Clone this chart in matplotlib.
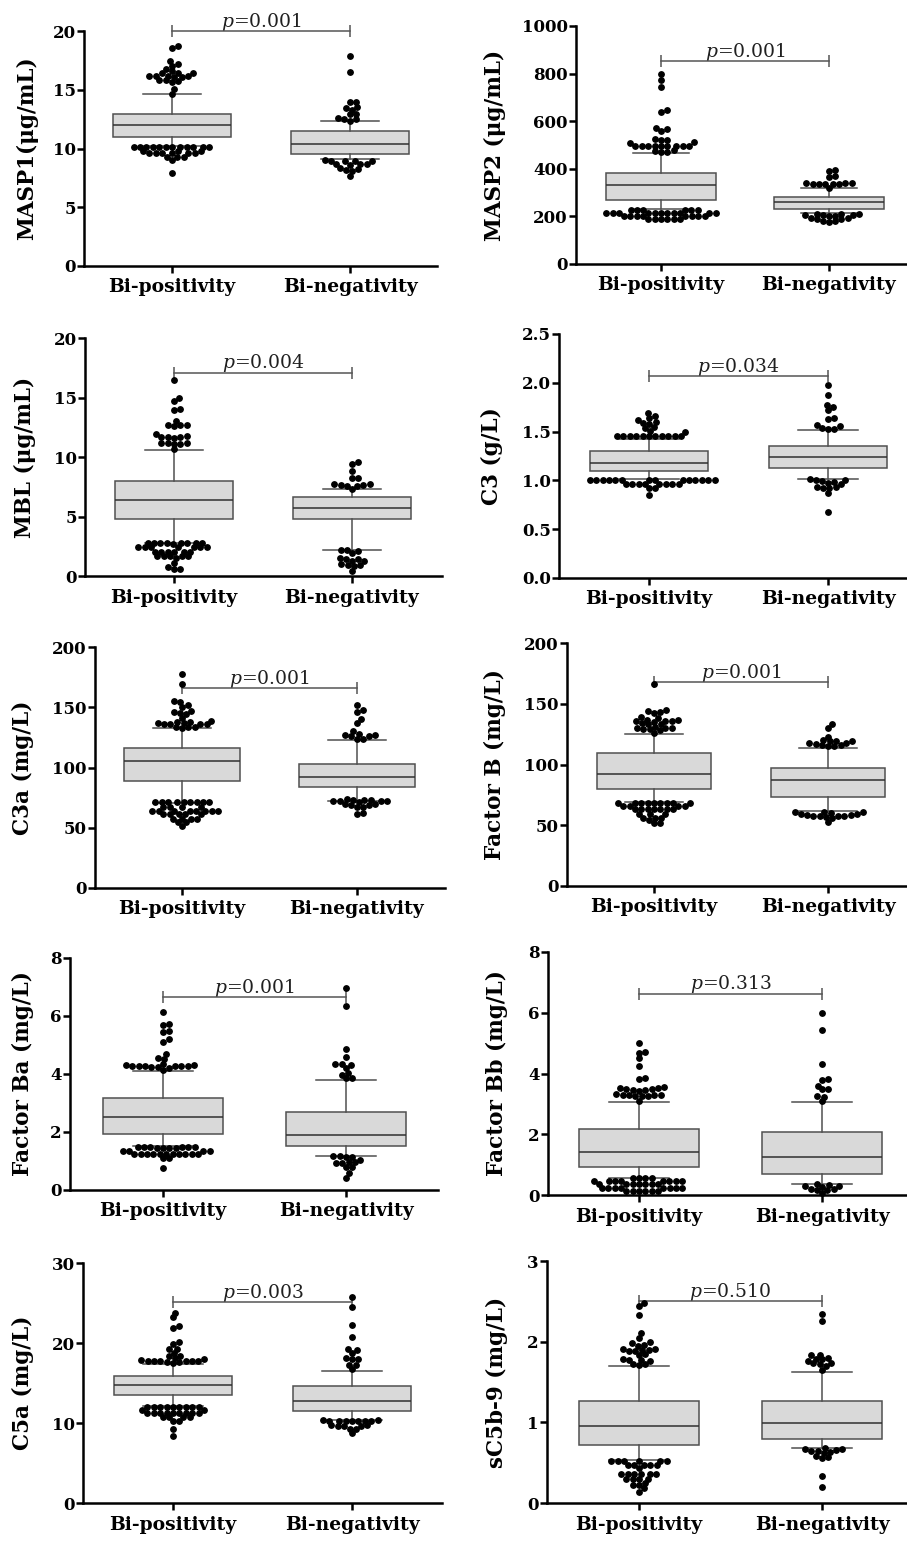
import matplotlib
matplotlib.use('Agg')
import matplotlib.pyplot as plt
import numpy as np

plt.rcParams['font.family'] = 'DejaVu Serif'
plt.rcParams['mathtext.fontset'] = 'dejavuserif'

groups = ['Bi-positivity', 'Bi-negativity']

# box stats: lower whisker, q1, median, q3, upper whisker
masp1_pos_box = [10.2, 11.0, 12.0, 12.9, 14.65]
masp1_pos_dots = [18.7, 18.55, 17.45, 17.2, 17.05, 16.8, 16.6, 16.45, 16.45, 16.4, 16.2, 16.2,
                  16.15, 16.15, 16.1, 16.1, 15.8, 15.8, 15.75, 15.7, 15.05, 14.65,
                  10.15, 10.15, 10.15, 10.15, 10.15, 10.15, 10.15, 10.15, 10.15, 10.15, 10.15, 10.15,
                  9.75, 9.75, 9.75, 9.6, 9.6, 9.6, 9.6, 9.6, 9.6, 9.3, 9.3, 9.3, 9.05, 7.9]
masp1_neg_box = [9.1, 9.56, 10.35, 11.5, 12.3]
masp1_neg_dots = [17.9, 16.5, 14.0, 13.95, 13.55, 13.45, 13.3, 12.95, 12.9, 12.6, 12.55, 12.5, 12.35,
                  9.0, 8.95, 8.95, 8.9, 8.9, 8.7, 8.65, 8.65, 8.6, 8.35, 8.25, 8.15, 8.1, 7.7]

masp2_pos_box = [231, 270, 330, 382, 468]
masp2_pos_dots = [800, 775, 745, 645, 640, 572, 568, 560, 525, 522, 520, 512, 508,
                  497, 497, 497, 497, 497, 497, 497, 497, 497, 478, 475, 472, 470,
                  228, 228, 228, 228, 228, 228, 214, 214, 214, 214, 214, 214, 214, 214, 214,
                  214, 214, 200, 200, 200, 200, 200, 200, 200, 200,
                  188, 188, 188, 188, 188, 188]
masp2_neg_box = [215, 232, 259, 281, 318]
masp2_neg_dots = [395, 390, 370, 365, 342, 340, 340, 338, 338, 336, 335, 335, 318,
                  212, 210, 208, 206, 205, 205, 203, 200, 195, 193, 190, 188, 182, 180, 178]

mbl_pos_box = [2.75, 4.77, 6.4, 7.95, 10.6]
mbl_pos_dots = [16.5, 14.95, 14.7, 14.05, 13.95, 13.0, 12.7, 12.65, 12.65, 12.6, 11.95, 11.75,
                11.7, 11.7, 11.65, 11.6, 11.2, 11.15, 11.15, 11.1, 11.1, 10.65,
                2.8, 2.8, 2.8, 2.8, 2.75, 2.75, 2.75, 2.75, 2.7, 2.4, 2.4, 2.4, 2.4, 2.4, 2.4, 2.4,
                2.05, 2.05, 2.05, 2.05, 2.05, 2.05, 1.65, 1.65, 1.65, 1.65, 1.65, 1.5,
                1.1, 0.75, 0.6, 0.55]
mbl_neg_box = [2.2, 4.77, 5.7, 6.6, 7.35]
mbl_neg_dots = [9.6, 9.45, 8.8, 8.25, 8.2, 7.7, 7.7, 7.65, 7.65, 7.6, 7.6, 7.35,
                2.2, 2.15, 2.1, 1.9, 1.5, 1.45, 1.4, 1.3, 1.25, 1.0, 0.95, 0.9, 0.85, 0.45]

c3_pos_box = [1.01, 1.10, 1.18, 1.30, 1.42]
c3_pos_dots = [1.69, 1.66, 1.64, 1.62, 1.6, 1.59, 1.58, 1.55, 1.54, 1.51, 1.5,
               1.46, 1.46, 1.46, 1.46, 1.46, 1.46, 1.46, 1.46, 1.46, 1.46, 1.46,
               1.0, 1.0, 1.0, 1.0, 1.0, 1.0, 1.0, 1.0, 1.0, 1.0, 1.0, 1.0, 1.0, 1.0,
               0.96, 0.96, 0.96, 0.96, 0.96, 0.96, 0.96, 0.96, 0.92, 0.92, 0.85]
c3_neg_box = [1.01, 1.125, 1.24, 1.35, 1.52]
c3_neg_dots = [1.98, 1.87, 1.77, 1.75, 1.72, 1.64, 1.63, 1.57, 1.56, 1.54, 1.53, 1.53,
               1.01, 1.0, 1.0, 0.99, 0.98, 0.97, 0.96, 0.93, 0.93, 0.92, 0.92, 0.87, 0.68]

c3a_pos_box = [70.8, 88.8, 105.5, 116.5, 133]
c3a_pos_dots = [178, 169, 155, 154, 152, 150, 147, 146, 145, 144, 141, 139, 138, 138, 137, 137,
                136, 136, 136, 136, 134, 134, 134, 133,
                71, 71, 71, 71, 71, 71, 71, 71, 71, 67, 67, 67, 67, 64, 64, 64, 64, 64, 64, 64, 64,
                61, 61, 61, 61, 61, 57.5, 57.5, 57.5, 57.5, 54.5, 54.5, 51.5]
c3a_neg_box = [72.2, 83.8, 92, 103.2, 123]
c3a_neg_dots = [152, 148, 146, 140, 137, 130, 128, 127, 127, 126, 126, 124, 124,
                74, 73, 73, 73, 72, 72, 72, 72, 71, 70, 70, 69, 69, 67, 67, 62, 61.5]

fb_pos_box = [69, 79.7, 92, 109.3, 125.3]
fb_pos_dots = [166, 145, 144, 143, 142, 139, 138, 137, 137, 136, 136, 136, 135, 134, 133, 133,
               131, 130, 130, 130, 129, 129, 128, 126,
               68, 68, 68, 68, 68, 68, 68, 68, 68, 65.5, 65.5, 65.5, 65.5, 63, 63, 63, 63, 63, 63, 63,
               59, 59, 59, 56, 56, 56, 54, 51.5, 51.5]
fb_neg_box = [62, 73.6, 87.4, 97.3, 113.5]
fb_neg_dots = [133, 130, 123, 120, 119, 119, 119, 118, 118, 117, 116, 116, 115, 115,
               61, 61, 60.5, 60, 59, 59, 58.5, 58.5, 58, 58, 58, 57.5, 57, 56, 53]

fba_pos_box = [1.52, 1.94, 2.51, 3.16, 4.12]
fba_pos_dots = [6.15, 5.72, 5.68, 5.48, 5.44, 5.2, 5.12, 4.68, 4.55, 4.52, 4.35, 4.3, 4.3, 4.28,
                4.28, 4.27, 4.27, 4.26, 4.26, 4.25, 4.25, 4.22, 4.15,
                1.5, 1.5, 1.5, 1.5, 1.5, 1.5, 1.45, 1.45, 1.45, 1.45, 1.35, 1.35, 1.35, 1.35,
                1.25, 1.25, 1.25, 1.25, 1.25, 1.25, 1.25, 1.25, 1.25, 1.25, 1.25, 1.1, 1.1, 0.75]
fba_neg_box = [1.17, 1.51, 1.9, 2.68, 3.81]
fba_neg_dots = [6.95, 6.35, 4.85, 4.58, 4.35, 4.33, 4.3, 4.2, 4.02, 3.98, 3.87, 3.85,
                1.18, 1.16, 1.15, 1.14, 1.05, 0.96, 0.95, 0.93, 0.92, 0.8, 0.78, 0.58, 0.43]

fbb_pos_box = [0.55, 0.91, 1.42, 2.16, 3.07]
fbb_pos_dots = [5.0, 4.72, 4.68, 4.5, 4.25, 3.84, 3.82, 3.55, 3.53, 3.52, 3.5, 3.48, 3.46, 3.45,
                3.44, 3.32, 3.3, 3.3, 3.28, 3.28, 3.27, 3.26, 3.25, 3.1,
                0.55, 0.55, 0.55, 0.55, 0.47, 0.47, 0.47, 0.47, 0.47, 0.47, 0.47, 0.47,
                0.36, 0.36, 0.36, 0.36, 0.36, 0.36, 0.36, 0.22, 0.22, 0.22, 0.22, 0.22, 0.22, 0.22, 0.22,
                0.12, 0.12, 0.12, 0.12, 0.12, 0.12]
fbb_neg_box = [0.36, 0.68, 1.24, 2.08, 3.07]
fbb_neg_dots = [5.98, 5.43, 4.32, 3.82, 3.8, 3.6, 3.5, 3.48, 3.25, 3.24, 3.08,
                0.36, 0.33, 0.3, 0.28, 0.27, 0.2, 0.19, 0.18, 0.17, 0.08]

c5a_pos_box = [12.1, 13.46, 14.75, 15.9, 17.4]
c5a_pos_dots = [23.8, 23.2, 22.1, 21.9, 20.1, 19.9, 19.3, 19.2, 18.75, 18.4, 18.35, 18.1, 18.05,
                17.85, 17.8, 17.8, 17.75, 17.75, 17.7, 17.7, 17.65, 17.6, 17.5,
                12.0, 12.0, 12.0, 12.0, 12.0, 12.0, 12.0, 12.0, 12.0, 11.6, 11.6,
                11.3, 11.3, 11.3, 11.3, 11.3, 11.3, 11.3, 11.3, 11.3, 10.7, 10.7, 10.7, 10.7,
                10.2, 10.2, 9.3, 8.4]
c5a_neg_box = [10.4, 11.46, 12.8, 14.67, 16.5]
c5a_neg_dots = [25.7, 24.5, 22.3, 20.7, 19.2, 19.1, 18.7, 18.1, 18.05, 18.0, 17.3, 17.2, 16.75,
                10.35, 10.35, 10.3, 10.3, 10.3, 10.3, 10.25, 10.25, 10.2, 9.7, 9.7, 9.65, 9.6, 9.6,
                9.3, 9.2, 8.7]

sc5b9_pos_box = [0.53, 0.714, 0.96, 1.26, 1.70]
sc5b9_pos_dots = [2.48, 2.44, 2.33, 2.11, 2.05, 1.99, 1.98, 1.96, 1.95, 1.91, 1.91, 1.9, 1.9,
                  1.89, 1.89, 1.85, 1.84, 1.78, 1.77, 1.77, 1.76, 1.72, 1.72, 1.71,
                  0.52, 0.52, 0.52, 0.52, 0.52, 0.52, 0.47, 0.47, 0.47, 0.47, 0.47, 0.43,
                  0.36, 0.36, 0.36, 0.36, 0.36, 0.36, 0.3, 0.3, 0.3, 0.3, 0.25, 0.22, 0.22, 0.18, 0.14]
sc5b9_neg_box = [0.68, 0.79, 0.99, 1.27, 1.63]
sc5b9_neg_dots = [2.34, 2.26, 1.84, 1.83, 1.8, 1.79, 1.78, 1.76, 1.74, 1.73, 1.72, 1.7, 1.65,
                  0.68, 0.67, 0.67, 0.66, 0.65, 0.64, 0.63, 0.62, 0.58, 0.57, 0.56, 0.34, 0.2]

y_labels = ['MASP1(μg/mL)', 'MASP2 (μg/mL)', 'MBL (μg/mL)', 'C3 (g/L)', 'C3a (mg/L)',
            'Factor B (mg/L)', 'Factor Ba (mg/L)', 'Factor Bb (mg/L)', 'C5a (mg/L)', 'sC5b-9 (mg/L)']
p_values = ['0.001', '0.001', '0.004', '0.034', '0.001', '0.001', '0.001', '0.313', '0.003', '0.510']
bracket_y = [20, 853, 17.1, 2.07, 166, 167.6, 6.65, 6.63, 25.1, 2.5]
y_max = [20, 1000, 20, 2.5, 200, 200, 8, 8, 30, 3]
y_step = [5, 200, 5, 0.5, 50, 50, 2, 2, 10, 1]

boxes = [(masp1_pos_box, masp1_neg_box), (masp2_pos_box, masp2_neg_box), (mbl_pos_box, mbl_neg_box),
         (c3_pos_box, c3_neg_box), (c3a_pos_box, c3a_neg_box), (fb_pos_box, fb_neg_box),
         (fba_pos_box, fba_neg_box), (fbb_pos_box, fbb_neg_box), (c5a_pos_box, c5a_neg_box),
         (sc5b9_pos_box, sc5b9_neg_box)]
dots = [(masp1_pos_dots, masp1_neg_dots), (masp2_pos_dots, masp2_neg_dots), (mbl_pos_dots, mbl_neg_dots),
        (c3_pos_dots, c3_neg_dots), (c3a_pos_dots, c3a_neg_dots), (fb_pos_dots, fb_neg_dots),
        (fba_pos_dots, fba_neg_dots), (fbb_pos_dots, fbb_neg_dots), (c5a_pos_dots, c5a_neg_dots),
        (sc5b9_pos_dots, sc5b9_neg_dots)]

W, H = 907, 1541
# pixel layout: x left, x right, y top, y bottom, tick 1 x, tick 2 x, y label centre x
layout = [
    (84, 437, 31, 266, 172, 350, 27),
    (576, 907, 26, 264, 661, 829, 495),
    (85, 442, 338, 576, 174, 352, 25),
    (559, 907, 334, 578, 649, 828, 492),
    (95, 445, 647, 888, 182, 357, 23),
    (567, 907, 643, 886, 654, 828, 495),
    (70, 438, 958, 1190, 163, 346, 23),
    (548, 907, 952, 1195, 639, 822, 497),
    (83, 442, 1263, 1503, 173, 352, 23),
    (547, 907, 1261, 1503, 639, 822, 497),
]

BOX_FACE = '#d9d9d9'
BOX_EDGE = '#505050'
GX, GY = 6.4, 5.0  # dot spacing in pixels, horizontal / vertical


def swarm(values, ux, uy):
    """beeswarm offsets (data units), elliptic spacing so rows stay flat"""
    values = np.asarray(values, dtype=float)
    xs = np.zeros(len(values))
    placed = []
    scale = GX / GY
    for i in np.argsort(values, kind='stable'):
        y = values[i] * uy * scale
        near = [(px, py) for px, py in placed if abs(py - y) < GX]
        cands = [0.0]
        for px, py in near:
            dx = np.sqrt(GX**2 - (py - y)**2)
            cands += [px + dx, px - dx]
        cands.sort(key=lambda c: (round(abs(c), 6), -c))
        for c in cands:
            if all((c - px)**2 + (y - py)**2 >= GX**2 - 1e-6 for px, py in near):
                xs[i] = c
                placed.append((c, y))
                break
    return xs / ux


fig = plt.figure(figsize=(W / 100, H / 100), dpi=100)

for k in range(10):
    x0, x1, yt, yb, t1, t2, lx = layout[k]
    ax = fig.add_axes([x0 / W, 1 - yb / H, (x1 - x0) / W, (yb - yt) / H])
    unit = t2 - t1
    ax.set_xlim(1 - (t1 - x0) / unit, 2 + (x1 - t2) / unit)
    ax.set_ylim(0, y_max[k])
    uy = (yb - yt) / y_max[k]

    stats = []
    for b in boxes[k]:
        stats.append(dict(whislo=b[0], q1=b[1], med=b[2], q3=b[3], whishi=b[4], fliers=[]))
    ax.bxp(stats, positions=[1, 2], widths=0.66, capwidths=0.33, patch_artist=True,
           showfliers=False,
           boxprops=dict(facecolor=BOX_FACE, edgecolor=BOX_EDGE, linewidth=1.1),
           whiskerprops=dict(color=BOX_EDGE, linewidth=1.1),
           capprops=dict(color=BOX_EDGE, linewidth=1.1),
           medianprops=dict(color='#303030', linewidth=1.1))

    for g in range(2):
        vals = dots[k][g]
        off = swarm(vals, unit, uy)
        ax.plot(g + 1 + off, vals, ls='none', marker='o', ms=3.9, color='black',
                mec='black', clip_on=False, zorder=5)

    # significance bracket
    yb_ = bracket_y[k]
    ax.plot([1, 2], [yb_, yb_], color='#555555', lw=1.1, clip_on=False, zorder=4)
    ax.plot([1, 2], [yb_, yb_], ls='none', marker='|', ms=9, mew=1.1, color='#555555',
            clip_on=False, zorder=4)
    ax.annotate('$p$=' + p_values[k], xy=(1.5, yb_), xytext=(0, 3), textcoords='offset points',
                ha='center', va='baseline', fontsize=13.5, color='#202020')

    ax.set_xticks([1, 2])
    ax.set_xticklabels(groups, fontsize=13.5, fontweight='bold')
    ax.set_yticks(np.arange(0, y_max[k] + y_step[k] / 2, y_step[k]))
    for lab in ax.get_yticklabels():
        lab.set_fontweight('bold')
        lab.set_fontsize(12)
    ax.tick_params(axis='both', direction='out', length=5, width=1.8, color='black')
    ax.tick_params(axis='y', pad=1)
    ax.tick_params(axis='x', pad=4)
    for side in ['top', 'right']:
        ax.spines[side].set_visible(False)
    for side in ['left', 'bottom']:
        ax.spines[side].set_linewidth(1.8)
        ax.spines[side].set_color('black')

    fig.text(lx / W, 1 - (yt + yb) / 2 / H, y_labels[k], rotation=90, ha='center', va='center',
             fontsize=15.5, fontweight='bold')

fig.savefig('out.png', dpi=100)
